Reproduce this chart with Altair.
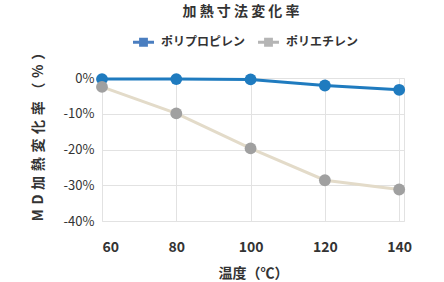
import altair as alt
import pandas as pd

temps = [60, 80, 100, 120, 140]
series_names = ["ポリプロピレン", "ポリエチレン"]
pp_values = [-0.3, -0.3, -0.4, -2.1, -3.3]
pe_values = [-2.5, -9.9, -19.7, -28.6, -31.2]
x_ticks = [60, 80, 100, 120, 140]
y_ticks = [0, -10, -20, -30, -40]

rows = []
for t, v in zip(temps, pp_values):
    rows.append({"temp": t, "value": v, "series": series_names[0]})
for t, v in zip(temps, pe_values):
    rows.append({"temp": t, "value": v, "series": series_names[1]})
df = pd.DataFrame(rows)

FONT = "Noto Sans CJK JP"
rev_names = series_names[::-1]
SP = "\u2004"

x_enc = alt.X(
    "temp:Q",
    scale=alt.Scale(domain=[60, 141.3], nice=False, zero=False),
    axis=alt.Axis(
        values=x_ticks,
        title="温度（℃）",
        labelFlush=True,
        labelPadding=19,
        labelFontSize=14,
        labelFontWeight="bold",
        labelColor="#333333",
        titleFontSize=14,
        titleFontWeight="bold",
        titleColor="#333333",
        titleY=52,
        titleBaseline="middle",
        domain=False,
        ticks=False,
        gridColor="#e2e2e2",
    ),
)
y_enc = alt.Y(
    "value:Q",
    scale=alt.Scale(domain=[-40, 0], nice=False),
    axis=alt.Axis(
        values=y_ticks,
        title=SP.join(["M", "D", "加", "熱", "変", "化", "率", "（", "%", "）"]),
        labelExpr="datum.value + '%'",
        labelPadding=8,
        labelFontSize=13,
        labelColor="#333333",
        titleFontSize=14,
        titleFontWeight="bold",
        titleColor="#333333",
        titleAngle=270,
        titleX=-64,
        titleY=55,
        titleAlign="center",
        titleBaseline="middle",
        domain=False,
        ticks=False,
        gridColor="#e2e2e2",
    ),
)

lines = alt.Chart(df).mark_line(strokeWidth=3).encode(
    x=x_enc,
    y=y_enc,
    stroke=alt.Stroke(
        "series:N",
        scale=alt.Scale(domain=rev_names, range=["#e3dbc9", "#1f7bbf"]),
        legend=None,
    ),
    order=alt.Order("temp:Q"),
)

points = alt.Chart(df).mark_circle(size=140, opacity=1).encode(
    x=x_enc,
    y=y_enc,
    fill=alt.Fill(
        "series:N",
        scale=alt.Scale(domain=rev_names, range=["#a0a0a0", "#1f7bbf"]),
        legend=None,
    ),
)

legend_layer = alt.Chart(df).mark_square(opacity=0, size=1).encode(
    x=x_enc,
    y=y_enc,
    color=alt.Color(
        "series:N",
        scale=alt.Scale(domain=series_names, range=["#4a7ec0", "#b5b5b5"]),
        legend=alt.Legend(
            title=None,
            orient="none",
            direction="horizontal",
            legendX=31,
            legendY=-46.5,
            padding=0,
            symbolType="M-1,-0.14H1V0.14H-1Z M-0.42,-0.42H0.42V0.42H-0.42Z",
            symbolSize=441,
            symbolStrokeWidth=0,
            symbolOpacity=1,
            labelOffset=7,
            columnPadding=12,
            labelFontSize=12,
            labelFontWeight="bold",
            labelColor="#333333",
            labelFont=FONT,
        ),
    ),
)

chart = (
    alt.layer(lines, points, legend_layer)
    .properties(
        width=302,
        height=143,
        autosize=alt.AutoSizeParams(type="none"),
        padding={"left": 102, "top": 78, "right": 40, "bottom": 61},
        title=alt.TitleParams(
            "加 熱 寸 法 変 化 率",
            fontSize=14,
            fontWeight="bold",
            color="#333333",
            anchor="middle",
            frame="group",
            dx=-12,
            offset=13,
        ),
    )
    .configure(font=FONT)
    .configure_view(stroke="#e2e2e2", strokeWidth=1)
    .configure_axis(labelFont=FONT, titleFont=FONT)
)

chart.save("out.html", embed_options={"renderer": "svg", "actions": False})
